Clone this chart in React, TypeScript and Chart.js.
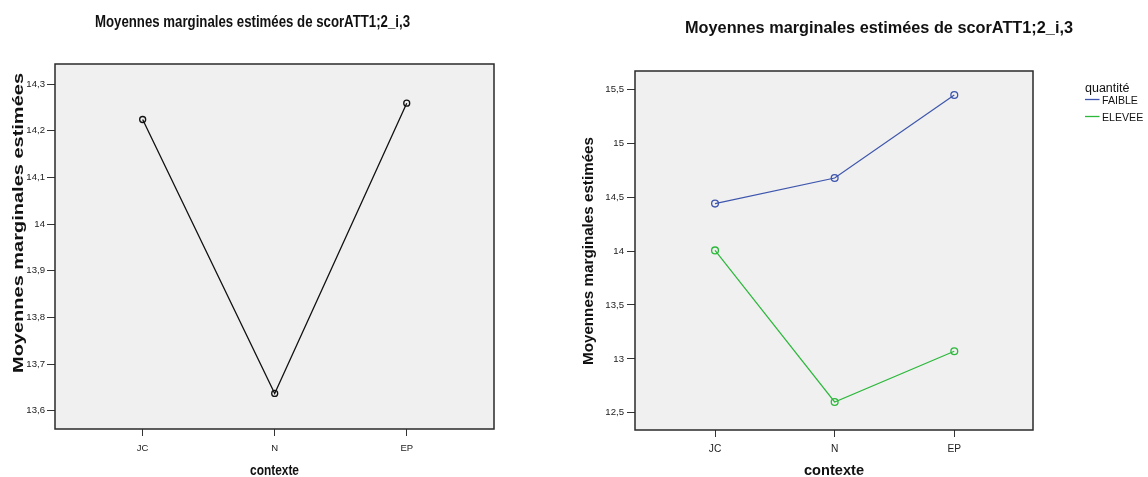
import React, { useEffect, useRef } from "react";
import { Chart, registerables } from "chart.js";

Chart.register(...registerables);

// ---- Data ----
const categories = ["JC", "N", "EP"];
const leftValues = [14.224, 13.637, 14.259];
const faibleValues = [14.44, 14.677, 15.447];
const eleveeValues = [14.006, 12.6, 13.07];
const leftYTicks = [13.6, 13.7, 13.8, 13.9, 14.0, 14.1, 14.2, 14.3];
const rightYTicks = [12.5, 13.0, 13.5, 14.0, 14.5, 15.0, 15.5];
const seriesLabels = ["FAIBLE", "ELEVEE"];
const legendTitle = "quantité";
const chartTitle = "Moyennes marginales estimées de scorATT1;2_i,3";
const yTitle = "Moyennes marginales estimées";
const xTitle = "contexte";

const FONT = '"Liberation Sans", Arial, sans-serif';
const W = 1148;
const H = 477;

function fmt(v: number): string {
  return String(Number(v.toFixed(1))).replace(".", ",");
}

type TextOpt = { size: number; bold?: boolean; width?: number; rotate?: boolean; align?: CanvasTextAlign; color?: string };

function drawText(ctx: CanvasRenderingContext2D, text: string, x: number, y: number, o: TextOpt) {
  ctx.save();
  ctx.font = `${o.bold ? "bold " : ""}${o.size}px ${FONT}`;
  const w = ctx.measureText(text).width;
  ctx.translate(x, y);
  if (o.rotate) ctx.rotate(-Math.PI / 2);
  if (o.width) ctx.scale(o.width / w, 1);
  ctx.textAlign = o.align || "center";
  ctx.textBaseline = "alphabetic";
  ctx.fillStyle = o.color || "#111";
  ctx.fillText(text, 0, 0);
  ctx.restore();
}

function framePlugin(id: string, drawExtra: (chart: any) => void) {
  return {
    id,
    beforeDraw(chart: any) {
      const { ctx, chartArea: a } = chart;
      ctx.save();
      ctx.fillStyle = "#f0f0f0";
      ctx.fillRect(a.left, a.top, a.right - a.left, a.bottom - a.top);
      ctx.restore();
    },
    afterDraw(chart: any) {
      const { ctx, chartArea: a } = chart;
      ctx.save();
      ctx.strokeStyle = "#2a2a2a";
      ctx.lineWidth = 1.5;
      ctx.strokeRect(a.left, a.top, a.right - a.left, a.bottom - a.top);
      ctx.restore();
      drawExtra(chart);
    },
  };
}

function axisX(min: number, max: number, fontSize: number, pad: number) {
  return {
    type: "linear" as const,
    min,
    max,
    afterBuildTicks: (s: any) => {
      s.ticks = categories.map((_, i) => ({ value: i }));
    },
    ticks: {
      callback: (v: any) => categories[Math.round(Number(v))] ?? "",
      font: { family: FONT, size: fontSize },
      color: "#222",
      padding: pad,
      autoSkip: false,
      maxRotation: 0,
    },
    grid: { display: true, drawOnChartArea: false, drawTicks: true, tickLength: 7, tickColor: "#333", tickWidth: 1 },
    border: { display: false },
    afterFit: (s: any) => {
      s.height = 30;
    },
  };
}

function axisY(min: number, max: number, tickVals: number[], width: number, pad: number) {
  return {
    type: "linear" as const,
    min,
    max,
    afterBuildTicks: (s: any) => {
      s.ticks = tickVals.map((v) => ({ value: v }));
    },
    ticks: {
      callback: (v: any) => fmt(Number(v)),
      font: { family: FONT, size: 9.6 },
      color: "#222",
      padding: pad,
      autoSkip: false,
    },
    grid: { display: true, drawOnChartArea: false, drawTicks: true, tickLength: 8, tickColor: "#333", tickWidth: 1 },
    border: { display: false },
    afterFit: (s: any) => {
      s.width = width;
    },
  };
}

export default function App() {
  const leftRef = useRef<HTMLCanvasElement>(null);
  const rightRef = useRef<HTMLCanvasElement>(null);

  useEffect(() => {
    const left = new Chart(leftRef.current!, {
      type: "line",
      data: {
        datasets: [
          {
            label: "moyenne",
            data: leftValues.map((v, i) => ({ x: i, y: v })),
            borderColor: "#111",
            borderWidth: 1.3,
            pointStyle: "circle",
            pointRadius: 3,
            pointBorderWidth: 1.3,
            pointBorderColor: "#111",
            pointBackgroundColor: "rgba(0,0,0,0)",
            tension: 0,
            fill: false,
          },
        ],
      },
      options: {
        responsive: false,
        animation: false,
        devicePixelRatio: 1,
        layout: { padding: { left: 0, top: 64, right: W - 494, bottom: H - 429 - 30 } },
        scales: {
          x: axisX(-0.664, 2.661, 9.5, 7),
          y: axisY(13.5608, 14.3429, leftYTicks, 55, 2),
        },
        plugins: { legend: { display: false }, tooltip: { enabled: false }, title: { display: false } },
      },
      plugins: [
        framePlugin("leftFrame", (chart: any) => {
          const ctx = chart.ctx;
          drawText(ctx, chartTitle, 252.5, 26.5, { size: 16, bold: true, width: 315 });
          drawText(ctx, yTitle, 23.3, 223, { size: 14, bold: true, width: 300, rotate: true });
          drawText(ctx, xTitle, 274.5, 475, { size: 14, bold: true, width: 49 });
        }),
      ],
    } as any);

    const right = new Chart(rightRef.current!, {
      type: "line",
      data: {
        datasets: [
          {
            label: seriesLabels[0],
            data: faibleValues.map((v, i) => ({ x: i, y: v })),
            borderColor: "#3d55ad",
            borderWidth: 1.2,
            pointRadius: 3.4,
            pointBorderWidth: 1.3,
            pointBorderColor: "#3d55ad",
            pointBackgroundColor: "rgba(0,0,0,0)",
            tension: 0,
            fill: false,
          },
          {
            label: seriesLabels[1],
            data: eleveeValues.map((v, i) => ({ x: i, y: v })),
            borderColor: "#2cb83b",
            borderWidth: 1.2,
            pointRadius: 3.4,
            pointBorderWidth: 1.3,
            pointBorderColor: "#2cb83b",
            pointBackgroundColor: "rgba(0,0,0,0)",
            tension: 0,
            fill: false,
          },
        ],
      },
      options: {
        responsive: false,
        animation: false,
        devicePixelRatio: 1,
        layout: { padding: { left: 635 - 60, top: 71, right: W - 1033, bottom: H - 430 - 30 } },
        scales: {
          x: axisX(-0.669, 2.658, 10.2, 6),
          y: axisY(12.34, 15.67, rightYTicks, 60, 3),
        },
        plugins: { legend: { display: false }, tooltip: { enabled: false }, title: { display: false } },
      },
      plugins: [
        framePlugin("rightFrame", (chart: any) => {
          const ctx = chart.ctx;
          drawText(ctx, chartTitle, 879, 33, { size: 16, bold: true, width: 388 });
          drawText(ctx, yTitle, 592.7, 251, { size: 15, bold: true, width: 228, rotate: true });
          drawText(ctx, xTitle, 834, 475, { size: 14.5, bold: true, width: 60 });
          // legend
          drawText(ctx, legendTitle, 1085, 92, { size: 12.5, align: "left" });
          const rows = [100, 117];
          chart.data.datasets.forEach((ds: any, i: number) => {
            const y = rows[i];
            ctx.save();
            ctx.strokeStyle = ds.borderColor;
            ctx.lineWidth = 1.3;
            ctx.beginPath();
            ctx.moveTo(1085, y - 0.5);
            ctx.lineTo(1099.5, y - 0.5);
            ctx.stroke();
            ctx.restore();
            drawText(ctx, ds.label, 1102, y + 4, { size: 10.6, align: "left" });
          });
        }),
      ],
    } as any);

    return () => {
      left.destroy();
      right.destroy();
    };
  }, []);

  const cs: React.CSSProperties = { position: "absolute", left: 0, top: 0, width: W, height: H };
  return (
    <div style={{ position: "fixed", left: 0, top: 0, width: W, height: H, background: "#fff" }}>
      <canvas ref={leftRef} width={W} height={H} style={cs} />
      <canvas ref={rightRef} width={W} height={H} style={cs} />
    </div>
  );
}
